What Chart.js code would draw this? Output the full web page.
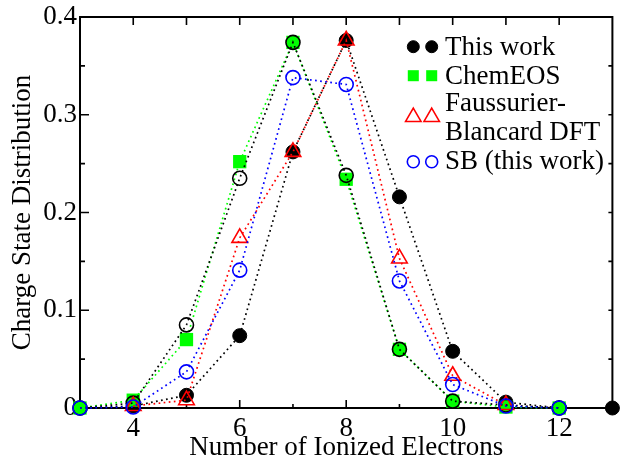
<!DOCTYPE html>
<html><head><meta charset="utf-8">
<script src="https://cdn.jsdelivr.net/npm/chart.js@4.4.1/dist/chart.umd.min.js"></script>
<style>html,body{margin:0;padding:0;background:#fff}#wrap{width:623px;height:459px;position:relative}</style>
</head><body><div id="wrap"><canvas id="c" width="623" height="459"></canvas></div>
<script>
// ---- data ----
const electrons      = [3, 4, 5, 6, 7, 8, 9, 10, 11, 12, 13];
const thisWork       = [0, 0.002, 0.013, 0.074, 0.262, 0.376, 0.216, 0.058, 0.006, 0, 0];
const chemEOS        = [0, 0.008, 0.070, 0.252, 0.374, 0.234, 0.060, 0.007, 0.001, 0, null];
const faussurierDFT  = [null, 0.002, 0.008, 0.174, 0.262, 0.376, 0.153, 0.033, 0.003, null, null];
const sbThisWork     = [0, 0.001, 0.037, 0.141, 0.338, 0.331, 0.130, 0.024, 0.002, 0, null];
const unlabeledModel = [0, 0.005, 0.085, 0.235, 0.374, 0.238, 0.060, 0.007, 0.003, 0, null];
const yTickValues    = [0, 0.1, 0.2, 0.3, 0.4];
const xTickLabels    = [4, 6, 8, 10, 12];
const legendLines    = [['This work'], ['ChemEOS'], ['Faussurier-', 'Blancard DFT'], ['SB (this work)']];

const FONT = 'Liberation Serif, Times New Roman, serif';
const pts = arr => electrons.map((x, i) => ({x, y: arr[i]})).filter(p => p.y !== null);

function ds(label, arr, color, style, opts) {
  return Object.assign({
    label, data: pts(arr), showLine: true, fill: false, tension: 0,
    borderColor: color, borderWidth: 1.7, borderDash: [1.7, 3.4],
    pointStyle: style, clip: false
  }, opts);
}

const datasets = [
  ds('This work', thisWork, '#000000', 'circle', {
    pointRadius: 7, pointHoverRadius: 7, pointBackgroundColor: '#000', pointBorderColor: '#000', pointBorderWidth: 1, order: 4}),
  ds('ChemEOS', chemEOS, '#00ff00', 'rect', {
    pointRadius: 9.4, pointHoverRadius: 9.4, pointBackgroundColor: '#00ff00', pointBorderColor: '#00ff00', pointBorderWidth: 0, order: 3}),
  ds('Faussurier-Blancard DFT', faussurierDFT, '#ff0000', 'triangle', {
    pointRadius: 9, pointHoverRadius: 9, pointBackgroundColor: 'rgba(0,0,0,0)', pointBorderColor: '#ff0000', pointBorderWidth: 1.6, order: 1}),
  ds('SB (this work)', sbThisWork, '#0000ff', 'circle', {
    pointRadius: 7, pointHoverRadius: 7, pointBackgroundColor: 'rgba(0,0,0,0)', pointBorderColor: '#0000ff', pointBorderWidth: 1.6, order: 0}),
  ds('', unlabeledModel, '#000000', 'circle', {
    pointRadius: 7, pointHoverRadius: 7, pointBackgroundColor: 'rgba(0,0,0,0)', pointBorderColor: '#000', pointBorderWidth: 1.6, order: 2})
];

const framePlugin = {
  id: 'frame',
  beforeDatasetsDraw(chart) {
    const {ctx, chartArea: a, scales: {x, y}} = chart;
    ctx.save();
    ctx.strokeStyle = '#000';
    ctx.lineWidth = 2;
    ctx.strokeRect(a.left, a.top, a.right - a.left, a.bottom - a.top);
    ctx.lineWidth = 1.6;
    ctx.beginPath();
    for (let v = 4; v <= 12; v++) {
      const px = x.getPixelForValue(v);
      const major = xTickLabels.includes(v);
      ctx.moveTo(px, a.bottom); ctx.lineTo(px, a.bottom - (major ? 8 : 4));
      ctx.moveTo(px, a.top); ctx.lineTo(px, a.top + 8);
    }
    for (let k = 1; k < 8; k++) {
      const v = k * 0.05;
      const py = y.getPixelForValue(v);
      const major = k % 2 === 0;
      ctx.moveTo(a.left, py); ctx.lineTo(a.left + (major ? 9 : 5), py);
      ctx.moveTo(a.right, py); ctx.lineTo(a.right - 4, py);
    }
    ctx.stroke();
    ctx.restore();
  }
};

function marker(ctx, style, r, bw, x, y) {
  if (Chart.helpers && Chart.helpers.drawPoint) {
    Chart.helpers.drawPoint(ctx, {pointStyle: style, radius: r, borderWidth: bw, rotation: 0}, x, y);
  }
}

const legendPlugin = {
  id: 'customLegend',
  afterDraw(chart) {
    const ctx = chart.ctx;
    const rows = [
      {ds: 0, r: 6, my: 46.7, base: [55]},
      {ds: 1, r: 7.8, my: 75.7, base: [84.3]},
      {ds: 2, r: 8.9, my: 117, base: [111, 140]},
      {ds: 3, r: 6, my: 161.7, base: [169]}
    ];
    ctx.save();
    rows.forEach((row, i) => {
      const d = chart.data.datasets[row.ds];
      ctx.fillStyle = d.pointBackgroundColor;
      ctx.strokeStyle = d.pointBorderColor;
      ctx.lineWidth = d.pointBorderWidth;
      [413.3, 431.7].forEach(mx => marker(ctx, d.pointStyle, row.r, d.pointBorderWidth, mx, row.my));
      ctx.fillStyle = '#000';
      ctx.font = '27px ' + FONT;
      ctx.textAlign = 'left';
      ctx.textBaseline = 'alphabetic';
      legendLines[i].forEach((t, j) => ctx.fillText(t, 445, row.base[j]));
    });
    ctx.restore();
  }
};

new Chart(document.getElementById('c'), {
  type: 'scatter',
  data: {datasets},
  options: {
    responsive: false, animation: false, devicePixelRatio: 1,
    events: [],
    layout: {padding: {top: 17, right: 7, left: 0, bottom: 0}},
    plugins: {legend: {display: false}, tooltip: {enabled: false}},
    scales: {
      x: {
        type: 'linear', min: 3, max: 13,
        grid: {display: false, drawTicks: false}, border: {display: false},
        ticks: {
          stepSize: 1, autoSkip: false, maxRotation: 0, padding: 7.5, color: '#000',
          font: {family: FONT, size: 27, lineHeight: 1},
          callback: v => xTickLabels.includes(v) ? String(v) : ''
        },
        title: {display: true, text: 'Number of Ionized Electrons', color: '#000',
          font: {family: FONT, size: 27, lineHeight: 0.8}, padding: 0},
        afterFit: s => { s.height = 51; }
      },
      y: {
        type: 'linear', min: 0, max: 0.4,
        grid: {display: false, drawTicks: false}, border: {display: false},
        afterBuildTicks: s => { s.ticks = yTickValues.map(v => ({value: v})); },
        ticks: {
          padding: 3, color: '#000',
          font: {family: FONT, size: 27, lineHeight: 1},
          callback: v => v === 0 ? '0' : v.toFixed(1)
        },
        title: {display: true, text: 'Charge State Distribution', color: '#000',
          font: {family: FONT, size: 27, lineHeight: 1}, padding: {top: 9.5, bottom: 0}},
        afterFit: s => { s.width = 80; }
      }
    }
  },
  plugins: [framePlugin, legendPlugin]
});
</script>
</body></html>
